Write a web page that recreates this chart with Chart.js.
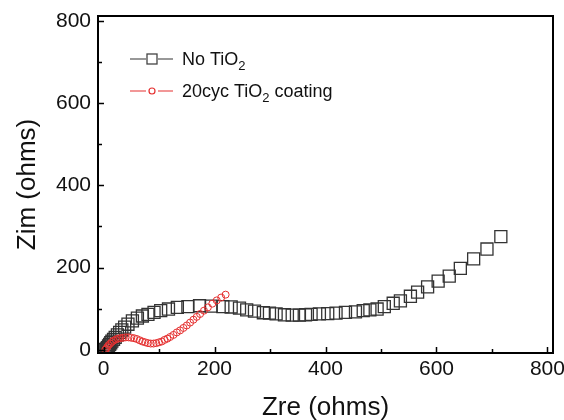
<!DOCTYPE html>
<html>
<head>
<meta charset="utf-8">
<script src="https://cdn.jsdelivr.net/npm/chart.js@4.4.1/dist/chart.umd.min.js"></script>
<style>
  html, body { margin: 0; padding: 0; background: #fff; }
</style>
</head>
<body>
<canvas id="myChart" width="564" height="420"></canvas>
<script>
const ctx = document.getElementById('myChart');

// No TiO2 (squares)
const noTiO2X = [3, 5, 7, 9, 11, 13, 15, 18, 21, 25, 29, 33, 38, 44, 52, 61, 70, 80, 91, 103, 117, 133, 152, 173, 194, 215, 230, 245, 258, 272, 288, 299, 311, 326, 340, 353, 364, 374, 389, 404, 419, 436, 454, 468, 480, 493, 506, 522, 535, 553, 566, 584, 603, 623, 643, 667, 691, 716];
const noTiO2Y = [0, 2, 5, 9, 13, 17, 21, 25, 30, 36, 42, 48, 55, 62, 70, 77, 82, 86, 91, 95, 99, 103, 105, 107, 106, 105, 104, 101, 97, 94, 90, 89, 87, 85, 84, 84, 85, 86, 87, 88, 89, 91, 92, 95, 97, 99, 105, 113, 119, 130, 140, 153, 167, 179, 198, 221, 245, 275];

// 20cyc TiO2 coating (circles)
const coatX = [3, 5, 7, 9, 12, 15, 18, 22, 26, 30, 35, 40, 45, 50, 55, 60, 65, 70, 75, 80, 85, 90, 95, 100, 105, 110, 115, 120, 126, 132, 138, 144, 150, 156, 162, 168, 174, 181, 188, 196, 204, 212, 220];
const coatY = [0, 3, 7, 11, 15, 19, 22, 25, 27, 28, 29, 30, 30, 29, 28, 26, 23, 20, 18, 16, 15, 15, 16, 18, 20, 24, 27, 31, 36, 42, 47, 53, 59, 66, 73, 80, 87, 95, 103, 112, 120, 127, 134];

const tickValues = [0, 200, 400, 600, 800];
const minorValues = [100, 300, 500, 700];

Chart.defaults.font.family = "'Liberation Sans', Arial, sans-serif";
Chart.defaults.color = '#111';

function toPoints(xs, ys) {
    return xs.map((x, i) => ({ x: x, y: ys[i] }));
}

function fixTicks(scale) {
    scale.ticks = tickValues.map(v => ({ value: v }));
}

// frame + inward ticks
const framePlugin = {
    id: 'frame',
    afterDraw(chart) {
        const c = chart.ctx;
        const a = chart.chartArea;
        const xs = chart.scales.x;
        const ys = chart.scales.y;
        c.save();
        c.strokeStyle = '#000';
        c.lineWidth = 2;
        c.strokeRect(a.left, a.top, a.right - a.left, a.bottom - a.top);
        c.lineWidth = 1.5;
        c.beginPath();
        tickValues.concat(minorValues).forEach(v => {
            let len = tickValues.includes(v) ? 6 : 4;
            let px = Math.round(xs.getPixelForValue(v)) + 0.5;
            c.moveTo(px, a.bottom);
            c.lineTo(px, a.bottom - len);
            let py = Math.round(ys.getPixelForValue(v)) + 0.5;
            c.moveTo(a.left, py);
            c.lineTo(a.left + len, py);
        });
        c.stroke();
        c.restore();
    }
};

// legend drawn by hand because of the subscripts
function drawParts(c, x, y, parts) {
    parts.forEach(p => {
        if (p.sub) {
            c.font = "13px 'Liberation Sans', Arial, sans-serif";
            c.fillText(p.t, x, y + 5);
        } else {
            c.font = "18px 'Liberation Sans', Arial, sans-serif";
            c.fillText(p.t, x, y);
        }
        x += c.measureText(p.t).width;
    });
}

const legendPlugin = {
    id: 'myLegend',
    afterDraw(chart) {
        const c = chart.ctx;
        c.save();
        c.textBaseline = 'alphabetic';
        c.fillStyle = '#111';

        c.strokeStyle = '#777';
        c.lineWidth = 1.3;
        c.beginPath();
        c.moveTo(130, 59); c.lineTo(146, 59);
        c.moveTo(158, 59); c.lineTo(173, 59);
        c.stroke();
        c.strokeStyle = '#444';
        c.strokeRect(147, 54, 10, 10);
        drawParts(c, 182, 65, [{ t: 'No TiO' }, { t: '2', sub: true }]);

        c.strokeStyle = '#e53030';
        c.lineWidth = 1.2;
        c.beginPath();
        c.moveTo(130, 91); c.lineTo(146, 91);
        c.moveTo(158, 91); c.lineTo(173, 91);
        c.stroke();
        c.beginPath();
        c.arc(152, 91, 3, 0, Math.PI * 2);
        c.stroke();
        drawParts(c, 182, 97, [{ t: '20cyc TiO' }, { t: '2', sub: true }, { t: ' coating' }]);
        c.restore();
    }
};

new Chart(ctx, {
    type: 'scatter',
    data: {
        datasets: [{
            label: '20cyc TiO2 coating',
            data: toPoints(coatX, coatY),
            pointStyle: 'circle',
            pointRadius: 3.5,
            borderColor: '#e53030',
            borderWidth: 1,
            backgroundColor: 'rgba(0,0,0,0)'
        }, {
            label: 'No TiO2',
            data: toPoints(noTiO2X, noTiO2Y),
            pointStyle: 'rect',
            pointRadius: 8.5,
            borderColor: '#333',
            borderWidth: 1.3,
            backgroundColor: 'rgba(0,0,0,0)'
        }]
    },
    options: {
        responsive: false,
        animation: false,
        devicePixelRatio: 1,
        layout: { padding: { top: 16, right: 11, left: 0, bottom: 0 } },
        plugins: {
            legend: { display: false },
            tooltip: { enabled: false }
        },
        scales: {
            x: {
                type: 'linear',
                min: -10,
                max: 810,
                afterBuildTicks: fixTicks,
                afterFit(scale) {
                    scale.height = 67;
                    scale.paddingLeft = 0;
                    scale.paddingRight = 0;
                },
                grid: { display: false, drawTicks: false },
                border: { display: false },
                ticks: { padding: 4, font: { size: 21 }, maxRotation: 0 },
                title: {
                    display: true,
                    text: 'Zre (ohms)',
                    font: { size: 26, lineHeight: 0.92 },
                    padding: { top: 0, bottom: 0 }
                }
            },
            y: {
                type: 'linear',
                min: -8,
                max: 812,
                afterBuildTicks: fixTicks,
                afterFit(scale) {
                    scale.width = 98;
                    scale.paddingTop = 0;
                    scale.paddingBottom = 0;
                },
                grid: { display: false, drawTicks: false },
                border: { display: false },
                ticks: { padding: 7, font: { size: 21 } },
                title: {
                    display: true,
                    text: 'Zim (ohms)',
                    font: { size: 26, lineHeight: 1 },
                    padding: { top: 15, bottom: 0 }
                }
            }
        }
    },
    plugins: [framePlugin, legendPlugin]
});
</script>
</body>
</html>
